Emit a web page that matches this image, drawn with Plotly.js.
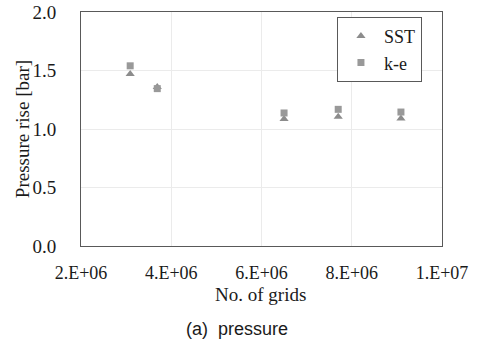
<!DOCTYPE html>
<html>
<head>
<meta charset="utf-8">
<script src="https://cdn.plot.ly/plotly-3.0.1.min.js"></script>
<style>html,body{margin:0;padding:0;background:#fff;}#chart{width:478px;height:343px;}</style>
</head>
<body>
<div id="chart"></div>
<script>
const grids = [3.09e6, 3.69e6, 6.5e6, 7.7e6, 9.09e6];
const sstValues = [1.47, 1.36, 1.085, 1.105, 1.09];
const keValues = [1.54, 1.345, 1.137, 1.168, 1.145];
const xTickVals = [2e6, 4e6, 6e6, 8e6, 1e7];
const xTickText = ["2.E+06", "4.E+06", "6.E+06", "8.E+06", "1.E+07"];
const yTickVals = [0, 0.5, 1.0, 1.5, 2.0];
const yTickText = ["0.0", "0.5", "1.0", "1.5", "2.0"];

const serif = '"Liberation Serif", "Times New Roman", serif';
const sans = '"Liberation Sans", Arial, sans-serif';
const txt = "#1a1a1a";
const traces = [
  {x: grids, y: sstValues, name: "SST", type: "scatter", mode: "markers",
   marker: {symbol: "triangle-up", size: 8, color: "#8c8c8c"}},
  {x: grids, y: keValues, name: "k-e", type: "scatter", mode: "markers",
   marker: {symbol: "square", size: 7, color: "#999999"}}
];
const layout = {
  width: 478, height: 343,
  margin: {l: 81, r: 36, t: 12, b: 97},
  paper_bgcolor: "#fff", plot_bgcolor: "#fff",
  font: {family: serif, size: 18, color: txt},
  showlegend: true,
  legend: {x: 0.709, y: 0.979, xanchor: "left", yanchor: "top",
           bordercolor: "#595959", borderwidth: 1, bgcolor: "#fff",
           font: {family: serif, size: 18, color: txt},
           itemwidth: 36, tracegroupgap: 0},
  xaxis: {range: [2e6, 1e7], tickvals: xTickVals, ticktext: xTickText,
          showgrid: true, gridcolor: "#ebebeb", zeroline: false,
          showline: true, linecolor: "#595959", linewidth: 1, mirror: true,
          ticks: "", ticklabelstandoff: 10,
          tickfont: {family: serif, size: 18, color: txt}},
  yaxis: {range: [0, 2], tickvals: yTickVals, ticktext: yTickText,
          showgrid: true, gridcolor: "#ebebeb", zeroline: false,
          showline: true, linecolor: "#595959", linewidth: 1, mirror: true,
          ticks: "", ticklabelstandoff: 20,
          tickfont: {family: serif, size: 19, color: txt}},
  annotations: [
    {text: "No. of grids", xref: "paper", yref: "paper", x: 0.498, y: -0.209,
     xanchor: "center", yanchor: "middle", showarrow: false,
     font: {family: serif, size: 19, color: txt}},
    {text: "Pressure rise [bar]", xref: "paper", yref: "paper", x: -0.163, y: 0.5,
     xanchor: "center", yanchor: "middle", textangle: -90, showarrow: false,
     font: {family: serif, size: 19, color: txt}},
    {text: "(a)  pressure", xref: "paper", yref: "paper", x: 0.432, y: -0.355,
     xanchor: "center", yanchor: "middle", showarrow: false,
     font: {family: sans, size: 18, color: txt}}
  ]
};
Plotly.newPlot("chart", traces, layout, {displayModeBar: false, staticPlot: true});
</script>
</body>
</html>
